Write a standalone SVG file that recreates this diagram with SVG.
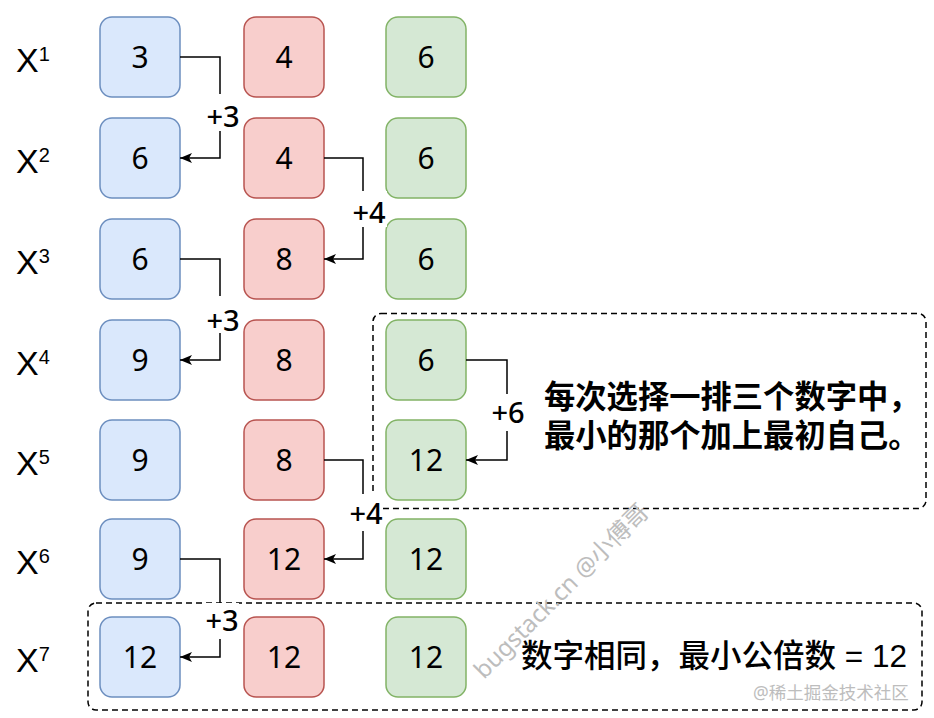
<svg xmlns="http://www.w3.org/2000/svg" width="934" height="718" viewBox="0 0 934 718">
<defs>
<style>
.bl{fill:#dae8fc;stroke:#6c8ebf;stroke-width:1.5}
.rd{fill:#f8cecc;stroke:#b85450;stroke-width:1.5}
.gr{fill:#d5e8d4;stroke:#82b366;stroke-width:1.5}
.num{font-family:"Noto Sans","Liberation Sans",sans-serif;font-size:30px;fill:#000;text-anchor:middle}
.xl{font-family:"Liberation Sans",Arial,sans-serif;font-size:34px;fill:#000}
.sup{font-size:20px}
.conn{fill:none;stroke:#000;stroke-width:1.5}
.lbl{font-family:"Noto Sans","Liberation Sans",sans-serif;font-size:29px;font-weight:500;fill:#000;text-anchor:middle}
.bg{fill:#fff}
.dash{fill:none;stroke:#000;stroke-width:1.5;stroke-dasharray:6 4}
.cjk1{font-family:"Noto Sans CJK SC",sans-serif;font-size:31.3px;font-weight:bold;fill:#000}
.cjk2{font-family:"Liberation Sans","Noto Sans CJK SC",sans-serif;font-size:31.5px;font-weight:500;fill:#000}
.wm{font-family:"Noto Sans","Noto Sans CJK SC",sans-serif;fill:#bdbdbd}
</style>
<marker id="arr" viewBox="0 0 12 10" refX="12" refY="5" markerWidth="12" markerHeight="10" markerUnits="userSpaceOnUse" orient="auto">
<path d="M0,0 L12,5 L0,10 L3,5 Z" fill="#000"/>
</marker>
</defs>

<g id="dashed-groups">
<rect class="dash" x="373" y="313.5" width="553" height="195" rx="8"/>
<rect class="dash" x="88" y="603" width="834" height="107" rx="8"/>
</g>

<g id="row-labels">
<text class="xl" x="16" y="72">X<tspan class="sup" dy="-11">1</tspan></text>
<text class="xl" x="16" y="173">X<tspan class="sup" dy="-11">2</tspan></text>
<text class="xl" x="16" y="274">X<tspan class="sup" dy="-11">3</tspan></text>
<text class="xl" x="16" y="375">X<tspan class="sup" dy="-11">4</tspan></text>
<text class="xl" x="16" y="475">X<tspan class="sup" dy="-11">5</tspan></text>
<text class="xl" x="16" y="574">X<tspan class="sup" dy="-11">6</tspan></text>
<text class="xl" x="16" y="672">X<tspan class="sup" dy="-11">7</tspan></text>
</g>

<g id="n-b1"><rect class="bl" x="100" y="17" width="80" height="80" rx="12"/><text class="num" x="140" y="68">3</text></g>
<g id="n-r1"><rect class="rd" x="244" y="17" width="80" height="80" rx="12"/><text class="num" x="284" y="68">4</text></g>
<g id="n-g1"><rect class="gr" x="386" y="17" width="80" height="80" rx="12"/><text class="num" x="426" y="68">6</text></g>

<g id="n-b2"><rect class="bl" x="100" y="118" width="80" height="80" rx="12"/><text class="num" x="140" y="169">6</text></g>
<g id="n-r2"><rect class="rd" x="244" y="118" width="80" height="80" rx="12"/><text class="num" x="284" y="169">4</text></g>
<g id="n-g2"><rect class="gr" x="386" y="118" width="80" height="80" rx="12"/><text class="num" x="426" y="169">6</text></g>

<g id="n-b3"><rect class="bl" x="100" y="219" width="80" height="80" rx="12"/><text class="num" x="140" y="270">6</text></g>
<g id="n-r3"><rect class="rd" x="244" y="219" width="80" height="80" rx="12"/><text class="num" x="284" y="270">8</text></g>
<g id="n-g3"><rect class="gr" x="386" y="219" width="80" height="80" rx="12"/><text class="num" x="426" y="270">6</text></g>

<g id="n-b4"><rect class="bl" x="100" y="320" width="80" height="80" rx="12"/><text class="num" x="140" y="371">9</text></g>
<g id="n-r4"><rect class="rd" x="244" y="320" width="80" height="80" rx="12"/><text class="num" x="284" y="371">8</text></g>
<g id="n-g4"><rect class="gr" x="386" y="320" width="80" height="80" rx="12"/><text class="num" x="426" y="371">6</text></g>

<g id="n-b5"><rect class="bl" x="100" y="420" width="80" height="80" rx="12"/><text class="num" x="140" y="471">9</text></g>
<g id="n-r5"><rect class="rd" x="244" y="420" width="80" height="80" rx="12"/><text class="num" x="284" y="471">8</text></g>
<g id="n-g5"><rect class="gr" x="386" y="420" width="80" height="80" rx="12"/><text class="num" x="426" y="471">12</text></g>

<g id="n-b6"><rect class="bl" x="100" y="519" width="80" height="80" rx="12"/><text class="num" x="140" y="570">9</text></g>
<g id="n-r6"><rect class="rd" x="244" y="519" width="80" height="80" rx="12"/><text class="num" x="284" y="570">12</text></g>
<g id="n-g6"><rect class="gr" x="386" y="519" width="80" height="80" rx="12"/><text class="num" x="426" y="570">12</text></g>

<g id="n-b7"><rect class="bl" x="100" y="617" width="80" height="80" rx="12"/><text class="num" x="140" y="668">12</text></g>
<g id="n-r7"><rect class="rd" x="244" y="617" width="80" height="80" rx="12"/><text class="num" x="284" y="668">12</text></g>
<g id="n-g7"><rect class="gr" x="386" y="617" width="80" height="80" rx="12"/><text class="num" x="426" y="668">12</text></g>

<g id="connectors">
<path class="conn" d="M180,57 H220 V158 H180" marker-end="url(#arr)"/>
<rect class="bg" x="206" y="94" width="34" height="37"/>
<text class="lbl" x="223" y="127">+3</text>

<path class="conn" d="M324,158 H363 V259 H324" marker-end="url(#arr)"/>
<rect class="bg" x="351" y="191" width="36" height="36"/>
<text class="lbl" x="369" y="223">+4</text>

<path class="conn" d="M180,259 H220 V360 H180" marker-end="url(#arr)"/>
<rect class="bg" x="206" y="296" width="34" height="37"/>
<text class="lbl" x="223" y="331">+3</text>

<path class="conn" d="M466,360 H507 V460 H466" marker-end="url(#arr)"/>
<rect class="bg" x="491" y="394" width="34" height="37"/>
<text class="lbl" x="508" y="423">+6</text>

<path class="conn" d="M324,460 H363 V559 H324" marker-end="url(#arr)"/>
<rect class="bg" x="349" y="494" width="34" height="37"/>
<text class="lbl" x="366" y="524">+4</text>

<path class="conn" d="M180,559 H220 V657 H180" marker-end="url(#arr)"/>
<rect class="bg" x="205" y="603" width="34" height="36"/>
<text class="lbl" x="222" y="631">+3</text>
</g>

<g id="notes">
<text class="cjk1" x="544" y="408"><tspan x="544" y="408">每次选择一排三个数字中，</tspan><tspan x="544" y="447">最小的那个加上最初自己。</tspan></text>
<text class="cjk2" x="521" y="667">数字相同，最小公倍数 = 12</text>
</g>

<g id="watermarks">
<text class="wm" font-size="24" transform="translate(484,680) rotate(-45)">bugstack.cn @小傅哥</text>
<text class="wm" font-size="17.5" x="753" y="699" fill="#b0b0b0">@稀土掘金技术社区</text>
</g>
</svg>
